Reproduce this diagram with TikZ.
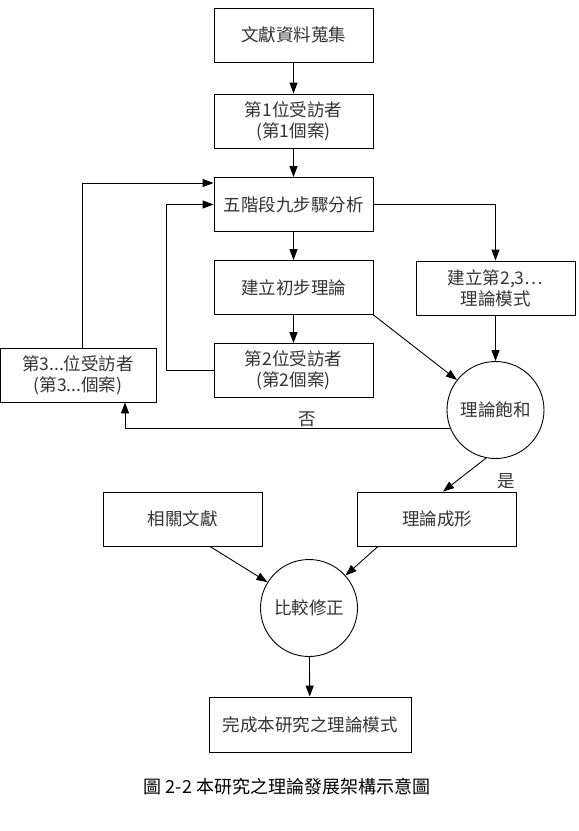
\documentclass[tikz,border=0pt]{standalone}
\usepackage{fontspec}
\setmainfont{Noto Sans CJK TC}
\usetikzlibrary{arrows.meta}
\tikzset{
  boxnode/.style={draw, line width=0.9pt, minimum width=159pt, minimum height=54pt, inner sep=0pt, align=center, font=\fontsize{17.5}{21}\selectfont, text=black!80},
  circnode/.style={draw, circle, line width=0.9pt, minimum size=97pt, inner sep=0pt, align=center, font=\fontsize{17.5}{21}\selectfont, text=black!80},
  conn/.style={line width=0.9pt, -{Triangle[length=11pt,width=8pt]}},
  lbl/.style={font=\fontsize{17.5}{21}\selectfont, text=black!80, inner sep=0pt}
}
\begin{document}
\begin{tikzpicture}[x=1pt,y=-1pt]
\useasboundingbox (0,0) rectangle (579,831);
\node[boxnode] (doc) at (293.5,35) {文獻資料蒐集};
\node[boxnode] (p1) at (293.5,121) {第1位受訪者\\(第1個案)};
\node[boxnode] (five) at (293.5,204.5) {五階段九步驟分析};
\node[boxnode] (init) at (293.5,287.5) {建立初步理論};
\node[boxnode] (p2) at (293.5,370.5) {第2位受訪者\\(第2個案)};
\node[boxnode, minimum width=156pt] (p3) at (78,375) {第3...位受訪者\\(第3...個案)};
\node[boxnode] (m23) at (495.5,288) {建立第2,3…\\理論模式};
\node[circnode] (sat) at (495.5,410) {理論飽和};
\node[boxnode] (lit) at (182.5,519) {相關文獻};
\node[boxnode] (form) at (437,519) {理論成形};
\node[circnode] (cmp) at (309,608) {比較修正};
\node[boxnode, minimum width=202pt, minimum height=55pt] (final) at (310,724.5) {完成本研究之理論模式};

\node[lbl] (no) at (307,419) {否};
\node[lbl] (yes) at (506,481) {是};
\node[lbl, text=black, font=\fontsize{18}{21}\selectfont] (cap) at (287,787) {圖 2-2 本研究之理論發展架構示意圖};

\draw[conn] (doc) -- (p1);
\draw[conn] (p1) -- (five);
\draw[conn] (five) -- (init);
\draw[conn] (init) -- (p2);
\draw[conn] (five.east) -| (m23.north);
\draw[conn] (m23) -- (sat);
\draw[conn] (init.south east) -- (sat);
\draw[conn] ([xshift=4pt]p3.north) |- ([yshift=21.5pt]five.west);
\draw[conn] (p2.west) -- ++(-47,0) |- (five.west);
\draw[conn] (sat.202) -| ([xshift=47pt]p3.south);
\draw[conn] (sat.259) -- ([xshift=6pt]form.north);
\draw[conn] ([xshift=27.5pt]lit.south) -- (cmp);
\draw[conn] ([xshift=-59pt]form.south) -- (cmp);
\draw[conn] (cmp) -- (final);
\end{tikzpicture}
\end{document}
